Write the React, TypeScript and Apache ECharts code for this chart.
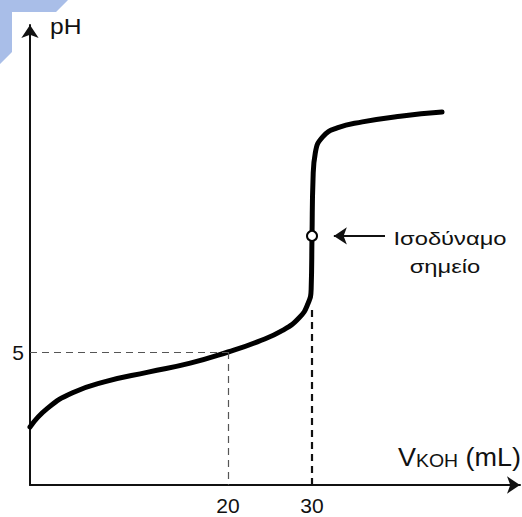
import React, { useEffect, useRef } from "react";
import * as echarts from "echarts";

// Titration curve (schematic) – volume of KOH (mL) vs pH
const volumes = [-3.57, -1.5, 1.5, 5.5, 10.5, 15.5, 20, 23.5, 26.5, 28.5, 29.5, 29.9, 30.0, 30.12, 30.4, 31.3, 33.0, 36.0, 40.5, 45.48];
const phValues = [2.5, 3.12, 3.64, 4.02, 4.33, 4.63, 5.0, 5.34, 5.72, 6.15, 6.6, 7.1, 8.87, 10.75, 11.65, 12.18, 12.47, 12.67, 12.86, 13.0];
const xTickValues = [20, 30];
const yTickValues = [5];
const halfPoint = [20, 5];
const equivalencePoint = [30, 8.87];
const annotationLines = ["Ισοδύναμο", "σημείο"];

const X_MIN = -3.57;
const X_MAX = 54.76;
const Y_MIN = 0.5667;
const Y_MAX = 15.9;

const FONT = "'Liberation Sans', Arial, sans-serif";

export default function App() {
  const ref = useRef<HTMLDivElement>(null);

  useEffect(() => {
    document.body.style.margin = "0";
    if (!ref.current) return;
    const chart = echarts.init(ref.current, undefined, { renderer: "svg" });

    const curve = volumes.map((v, i) => [v, phValues[i]]);

    chart.setOption({
      animation: false,
      backgroundColor: "#ffffff",
      grid: {
        left: 30,
        right: 2,
        top: 25,
        bottom: 32,
        containLabel: false,
        outerBoundsMode: "none",
      },
      xAxis: {
        type: "value",
        min: X_MIN,
        max: X_MAX,
        splitLine: { show: false },
        axisTick: { show: false },
        axisLine: {
          show: true,
          onZero: false,
          symbol: ["none", "arrow"],
          symbolSize: [13, 13],
          lineStyle: { color: "#111", width: 2 },
        },
        axisLabel: {
          customValues: xTickValues,
          color: "#111",
          fontSize: 21,
          fontFamily: FONT,
          margin: 10,
        },
      },
      yAxis: {
        type: "value",
        min: Y_MIN,
        max: Y_MAX,
        splitLine: { show: false },
        axisTick: { show: false },
        axisLine: {
          show: true,
          onZero: false,
          symbol: ["none", "arrow"],
          symbolSize: [13, 13],
          lineStyle: { color: "#111", width: 2 },
        },
        axisLabel: {
          customValues: yTickValues,
          color: "#111",
          fontSize: 21,
          fontFamily: FONT,
          margin: 6,
        },
      },
      series: [
        {
          type: "line",
          data: curve,
          smooth: 0.5,
          showSymbol: false,
          symbol: "none",
          lineStyle: { color: "#000", width: 5, cap: "round", join: "round" },
          z: 3,
          markLine: {
            silent: true,
            symbol: "none",
            label: { show: false },
            data: [
              [
                { coord: [X_MIN, halfPoint[1]], lineStyle: { color: "#555", width: 1.2, type: [7, 5] } },
                { coord: [halfPoint[0], halfPoint[1]] },
              ],
              [
                { coord: [halfPoint[0], halfPoint[1]], lineStyle: { color: "#555", width: 1.2, type: [7, 5] } },
                { coord: [halfPoint[0], Y_MIN] },
              ],
              [
                { coord: [equivalencePoint[0], 6.4], lineStyle: { color: "#111", width: 2.2, type: [7, 5] } },
                { coord: [equivalencePoint[0], Y_MIN] },
              ],
              [
                {
                  coord: [38.69, equivalencePoint[1]],
                  symbol: "none",
                  lineStyle: { color: "#111", width: 2, type: "solid" },
                },
                { coord: [32.6, equivalencePoint[1]], symbol: "arrow", symbolSize: [13, 13] },
              ],
            ],
          },
        },
        {
          type: "scatter",
          data: [equivalencePoint],
          symbol: "circle",
          symbolSize: 10,
          itemStyle: { color: "#fff", borderColor: "#000", borderWidth: 2, opacity: 1 },
          z: 5,
        },
      ],
      graphic: [
        {
          type: "polygon",
          shape: { points: [[0, 0], [68, 0], [56, 12], [12, 12], [12, 52], [0, 64]] },
          style: { fill: "#a9bee8" },
          silent: true,
        },
        {
          type: "text",
          x: 50,
          y: 26,
          scaleX: 1.12,
          style: {
            text: "pH",
            fontSize: 22,
            fontFamily: FONT,
            fill: "#111",
            verticalAlign: "middle",
            textAlign: "left",
          },
        },
        {
          type: "text",
          x: 398,
          y: 457,
          scaleX: 1.08,
          style: {
            text: "{v|V}{s|KOH}{v| (mL)}",
            fontFamily: FONT,
            fill: "#111",
            verticalAlign: "middle",
            textAlign: "left",
            rich: {
              v: { fontSize: 25, fontFamily: FONT, fill: "#111" },
              s: { fontSize: 18, fontFamily: FONT, fill: "#111", verticalAlign: "bottom" },
            },
          },
        },
        {
          type: "text",
          x: 450,
          y: 239,
          scaleX: 1.25,
          style: {
            text: annotationLines[0],
            fontSize: 19,
            fontFamily: FONT,
            fill: "#111",
            verticalAlign: "middle",
            textAlign: "center",
          },
        },
        {
          type: "text",
          x: 445,
          y: 267,
          scaleX: 1.25,
          style: {
            text: annotationLines[1],
            fontSize: 19,
            fontFamily: FONT,
            fill: "#111",
            verticalAlign: "middle",
            textAlign: "center",
          },
        },
      ],
    });

    return () => chart.dispose();
  }, []);

  return <div ref={ref} style={{ width: 522, height: 517 }} />;
}
